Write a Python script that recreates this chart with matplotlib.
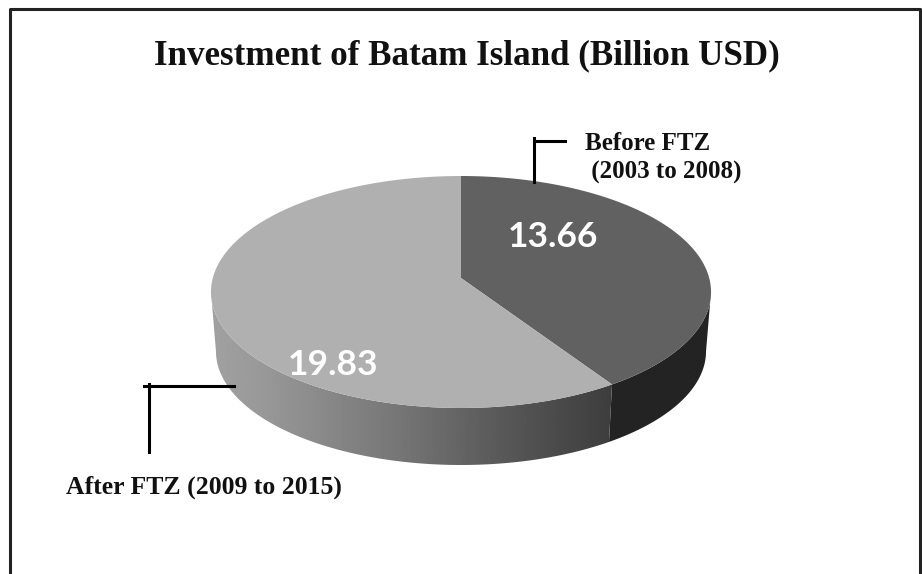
"""Investment of Batam Island: two-slice pie with a raised rim, grey tones."""
import numpy as np
import matplotlib; matplotlib.use("Agg")
import matplotlib.pyplot as plt
from matplotlib.patches import Polygon, Rectangle

periods = ["Before FTZ\n (2003 to 2008)", "After FTZ (2009 to 2015)"]
invest = [13.66, 19.83]
value_labels = ["13.66", "19.83"]

W, H = 922, 574
serif = "Liberation Serif"
# pie centre on screen and the perspective of the disc
cx, cy = 461, 278
A, B, k = 248.2, 114.3, 0.1207
cy_low, scale_low = 337.6, 0.98

fig = plt.figure(figsize=(W/100, H/100), dpi=100)
ax = fig.add_axes([0, 0, 1, 1])
ax.set_xlim(0, W); ax.set_ylim(H, 0); ax.axis("off")

# chart frame, open along the bottom edge
ax.plot([10, 10, 920, 920], [574, 9, 9, 574], color="#222222", lw=2.2)


def rim(theta, y0=cy, s=1.0):
    # theta in degrees, clockwise from twelve o'clock, far side drawn smaller
    t = np.radians(theta)
    w = 1 + k*np.cos(t)
    return np.column_stack([cx + s*A*np.sin(t)/w, y0 - s*B*np.cos(t)/w])


split = 360 * invest[0] / sum(invest)
# angles where the disc is widest on screen, the wall silhouette starts there
side_r = np.degrees(np.arccos(-k))
side_l = 360 - side_r


# side wall of each slice, shaded left to right with a clipped gradient
def wall(a0, a1, stops):
    arc = np.linspace(a0, a1, 300)
    pts = np.vstack([rim(arc), rim(arc[::-1], cy_low, scale_low)])
    clip = Polygon(pts, closed=True, fc="none", ec="none")
    ax.add_patch(clip)
    xs = np.linspace(205, 715, 256)
    g = np.interp(xs, [s[0] for s in stops], [s[1] for s in stops])
    im = ax.imshow(g[None, :], cmap="gray", vmin=0, vmax=1, aspect="auto",
                   extent=[205, 715, 480, 170], zorder=1)
    im.set_clip_path(clip)


wall(side_r, split, [(211, 0.14), (711, 0.14)])
wall(split, side_l, [(211, 0.63), (260, 0.60), (400, 0.46), (500, 0.35), (612, 0.24)])
ax.set_xlim(0, W); ax.set_ylim(H, 0)

# small notch along the lower edge of the wall
ax.add_patch(Rectangle((345, 462), 60, 8, fc="white", ec="none", zorder=1.5))

# top faces
colors = ["#616161", "#b0b0b0"]
spans = [(0, split), (split, 360)]
for (a0, a1), c in zip(spans, colors):
    arc = np.linspace(a0, a1, 300)
    ax.add_patch(Polygon(np.vstack([[cx, cy], rim(arc)]), closed=True, fc=c, ec="none", zorder=2))

ax.text(553, 237, value_labels[0], color="white", fontsize=25.5, fontweight="bold",
        family="Lato", ha="center", va="center", zorder=3)
ax.text(333, 365, value_labels[1], color="white", fontsize=25.5, fontweight="bold",
        family="Lato", ha="center", va="center", zorder=3)

ax.text(467, 56, "Investment of Batam Island (Billion USD)", family=serif, fontsize=25.2,
        fontweight="bold", ha="center", va="center", color="#111111")
ax.text(585, 158, periods[0], family=serif, fontsize=18, fontweight="bold",
        ha="left", va="center", color="#111111", linespacing=1.3)
ax.text(66, 487, periods[1], family=serif, fontsize=18.5, fontweight="bold",
        ha="left", va="center", color="#111111")

# leader lines
ax.plot([534, 534], [138, 182], color="black", lw=2.2, zorder=4)
ax.plot([537, 565], [141, 141], color="black", lw=2.2, zorder=4)
ax.plot([234, 144], [386, 386], color="black", lw=2.2, zorder=4)
ax.plot([149, 149], [384, 452], color="black", lw=2.2, zorder=4)

fig.savefig("out.png", dpi=100)
